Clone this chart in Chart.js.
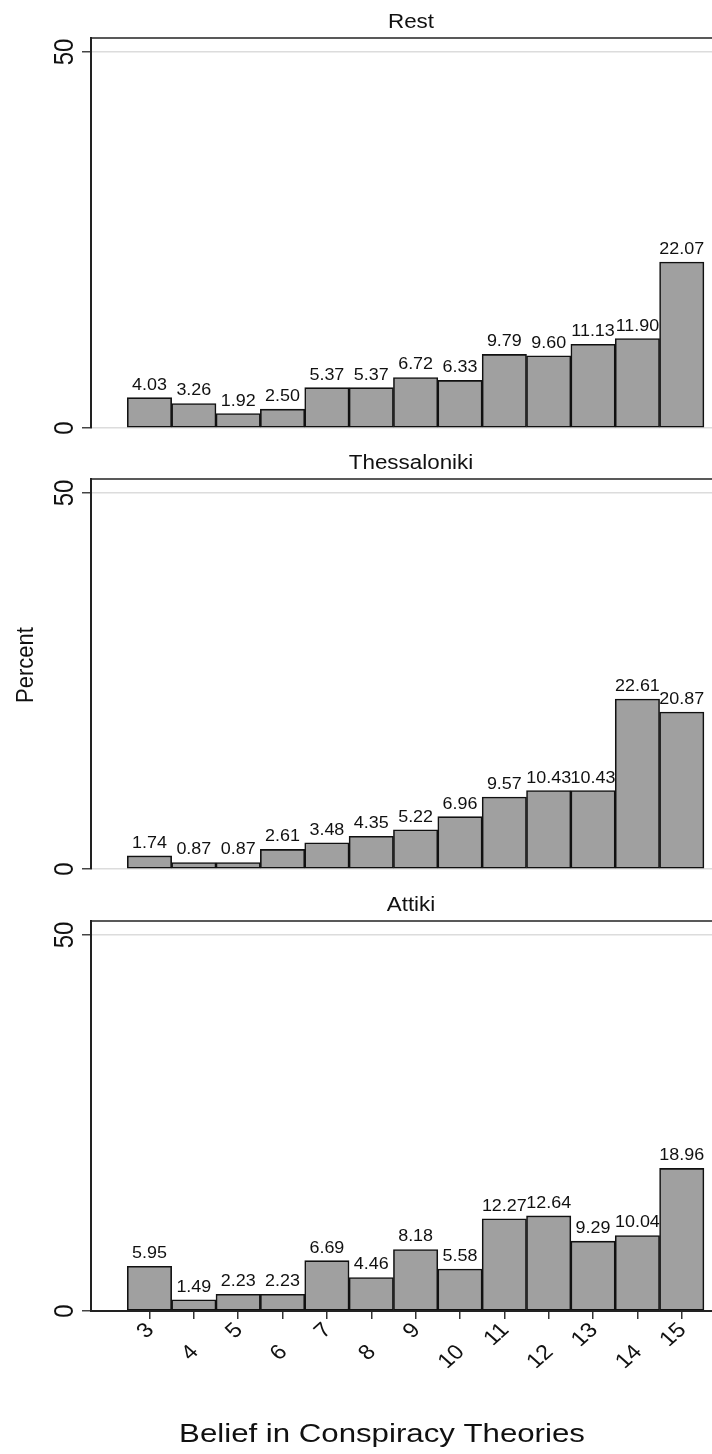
<!DOCTYPE html>
<html>
<head>
<meta charset="utf-8">
<script src="https://cdn.jsdelivr.net/npm/chart.js@4.4.1/dist/chart.umd.min.js"></script>
<style>
  html, body { margin: 0; padding: 0; background: #fff; overflow: hidden; }
  body { width: 712px; height: 1454px; position: relative; }
  .panel { position: absolute; left: 0; width: 740px; }
</style>
</head>
<body>
<div class="panel" style="top:0;height:441px"><canvas id="p1"></canvas></div>
<div class="panel" style="top:441px;height:442px"><canvas id="p2"></canvas></div>
<div class="panel" style="top:883px;height:571px"><canvas id="p3"></canvas></div>
<script>
// data
const categories = [3, 4, 5, 6, 7, 8, 9, 10, 11, 12, 13, 14, 15];
const rest         = [4.03, 3.26, 1.92, 2.50, 5.37, 5.37, 6.72, 6.33, 9.79, 9.60, 11.13, 11.90, 22.07];
const thessaloniki = [1.74, 0.87, 0.87, 2.61, 3.48, 4.35, 5.22, 6.96, 9.57, 10.43, 10.43, 22.61, 20.87];
const attiki       = [5.95, 1.49, 2.23, 2.23, 6.69, 4.46, 8.18, 5.58, 12.27, 12.64, 9.29, 10.04, 18.96];
const yTicks = [0, 50];
const xTitle = 'Belief in Conspiracy Theories';
const yTitle = 'Percent';

const FONT = '"Liberation Sans", Arial, Helvetica, sans-serif';

// text with a slight horizontal stretch, like the reference image
function drawText(ctx, txt, x, y, size, o) {
  o = o || {};
  ctx.save();
  ctx.translate(x, y);
  ctx.scale(o.sx || 1.12, 1);
  ctx.rotate(o.rot || 0);
  ctx.font = size + 'px ' + FONT;
  ctx.fillStyle = '#111';
  ctx.textAlign = o.align || 'center';
  ctx.textBaseline = o.base || 'alphabetic';
  ctx.fillText(txt, 0, 0);
  ctx.restore();
}

const decor = {
  id: 'decor',
  afterDraw(chart, args, o) {
    const ctx = chart.ctx, a = chart.chartArea;
    const xs = chart.scales.x, ys = chart.scales.y;
    // top frame line
    ctx.save();
    ctx.strokeStyle = '#222';
    ctx.lineWidth = 1.6;
    ctx.beginPath();
    ctx.moveTo(a.left - 1, a.top);
    ctx.lineTo(a.right, a.top);
    ctx.stroke();
    ctx.restore();

    drawText(ctx, o.title, (a.left + a.right) / 2, a.top - 10, 20);

    yTicks.forEach(v => drawText(ctx, String(v), 73, ys.getPixelForValue(v), 24, { rot: -Math.PI / 2 }));

    const meta = chart.getDatasetMeta(0);
    meta.data.forEach((bar, i) => drawText(ctx, o.values[i].toFixed(2), bar.x, bar.y - 8, 16));

    if (o.showY) {
      drawText(ctx, yTitle, 33, 224, 22, { rot: -Math.PI / 2 });
    }
    if (o.bottom) {
      categories.forEach((c, i) => {
        const px = xs.getPixelForValue(c);
        const dy = i % 2 === 0 ? 16 : 38;
        drawText(ctx, String(c), px + 1, a.bottom + dy, 21, { rot: -Math.PI / 4, align: 'right', base: 'middle' });
      });
      drawText(ctx, xTitle, 382, 559, 26, { sx: 1.2 });
    }
  }
};

function makePanel(id, title, values, bottom, showY) {
  const h = bottom ? 571 : (id === 'p2' ? 442 : 441);
  return new Chart(document.getElementById(id), {
    type: 'bar',
    data: {
      datasets: [{
        data: categories.map((c, i) => ({ x: c, y: values[i] })),
        backgroundColor: '#a0a0a0',
        borderColor: '#111',
        borderWidth: 1.6,
        borderSkipped: false,
        categoryPercentage: 1,
        barPercentage: 1
      }]
    },
    options: {
      responsive: true,
      maintainAspectRatio: false,
      animation: false,
      devicePixelRatio: 1,
      layout: { padding: { top: 38, left: 0, right: 9, bottom: bottom ? h - 428 - 10 : h - 428 } },
      plugins: {
        legend: { display: false },
        tooltip: { enabled: false },
        decor: { title: title, values: values, bottom: bottom, showY: showY }
      },
      scales: {
        x: {
          type: 'linear',
          min: 1.682,
          max: 16.11,
          offset: false,
          display: bottom,
          afterBuildTicks: s => { s.ticks = categories.map(v => ({ value: v })); },
          afterFit: s => { s.height = bottom ? 10 : 0; },
          ticks: { display: false },
          grid: { offset: false, drawOnChartArea: false, drawTicks: true, tickLength: 8, tickColor: '#333', lineWidth: 1.5 },
          border: { display: true, color: '#222', width: 2, z: 1 }
        },
        y: {
          min: 0,
          max: 51.86,
          afterBuildTicks: s => { s.ticks = yTicks.map(v => ({ value: v })); },
          afterFit: s => { s.width = 91; },
          ticks: { display: false },
          grid: { color: '#dcdcdc', lineWidth: 1.5, drawTicks: true, tickLength: 9, tickColor: '#444' },
          border: { display: true, color: '#222', width: 2 }
        }
      }
    },
    plugins: [decor]
  });
}

makePanel('p1', 'Rest', rest, false, false);
makePanel('p2', 'Thessaloniki', thessaloniki, false, true);
makePanel('p3', 'Attiki', attiki, true, false);
</script>
</body>
</html>
